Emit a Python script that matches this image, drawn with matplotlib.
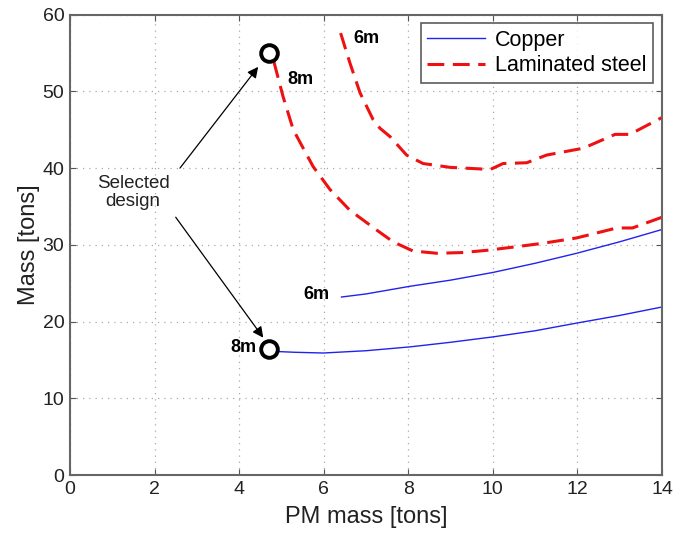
import matplotlib
matplotlib.use("Agg")
import matplotlib.pyplot as plt

plt.rcParams['font.family'] = ['Liberation Sans', 'DejaVu Sans']

# Copper designs (PM mass [tons] vs total mass [tons])
cu_8m_x = [4.71, 4.89, 5.3, 5.99, 7.0, 8.04, 9.0, 10.0, 11.0, 11.98, 13.0, 14.0]
cu_8m_y = [16.4, 16.1, 16.0, 15.9, 16.2, 16.7, 17.3, 18.0, 18.8, 19.8, 20.8, 21.9]
cu_6m_x = [6.42, 7.0, 8.04, 9.0, 10.0, 11.0, 11.98, 13.0, 14.0]
cu_6m_y = [23.2, 23.6, 24.6, 25.4, 26.4, 27.6, 28.9, 30.4, 32.0]

# Laminated steel designs
fe_8m_x = [4.82, 5.04, 5.28, 5.75, 6.15, 6.62, 7.26, 7.64, 8.11, 8.68,
           9.3, 9.88, 10.47, 11.18, 11.98, 12.93, 13.3, 14.0]
fe_8m_y = [53.9, 49.3, 45.0, 40.2, 37.2, 34.5, 31.9, 30.4, 29.2, 28.9,
           29.0, 29.3, 29.7, 30.2, 30.9, 32.2, 32.2, 33.6]
fe_6m_x = [6.40, 6.62, 6.86, 7.17, 7.33, 7.57, 7.96, 8.35, 8.99, 9.69,
           9.93, 10.24, 10.8, 11.27, 12.14, 12.89, 13.24, 14.0]
fe_6m_y = [57.6, 53.7, 49.8, 46.3, 45.2, 44.1, 41.7, 40.6, 40.1, 39.9,
           39.8, 40.6, 40.7, 41.7, 42.6, 44.4, 44.4, 46.6]

# Selected designs
sel_x = [4.71, 4.71]
sel_y = [55.0, 16.4]

x_ticks = [0, 2, 4, 6, 8, 10, 12, 14]
y_ticks = [0, 10, 20, 30, 40, 50, 60]

fig = plt.figure(figsize=(6.74, 5.37), dpi=100)
ax = fig.add_axes([70 / 674, 1 - 475 / 537, 592 / 674, 460.3 / 537])

blue = '#2222ee'
red = '#ee1111'

ax.plot(cu_8m_x, cu_8m_y, color=blue, lw=1.0, label='Copper')
ax.plot(cu_6m_x, cu_6m_y, color=blue, lw=1.0)
ax.plot(fe_8m_x, fe_8m_y, color=red, lw=2.2, dashes=(5.5, 2.8), label='Laminated steel')
ax.plot(fe_6m_x, fe_6m_y, color=red, lw=2.2, dashes=(5.5, 2.8))

ax.plot(sel_x, sel_y, 'o', ms=12, mfc='white', mec='black', mew=2.8, zorder=5)

ax.set_xlim(0, 14)
ax.set_ylim(0, 60)
ax.set_xticks(x_ticks)
ax.set_yticks(y_ticks)
ax.tick_params(direction='in', top=True, right=True, labelsize=14, length=4,
               color='#555555', pad=4, labelcolor='#222222')
for s in ax.spines.values():
    s.set_color('#666666')
    s.set_linewidth(1.5)
ax.grid(True, linestyle=(0, (1, 4)), color='#aaaaaa', lw=0.9)

ax.set_xlabel('PM mass [tons]', fontsize=17, labelpad=6, color='#222222')
ax.set_ylabel('Mass [tons]', fontsize=17, labelpad=2, color='#222222')

# Curve labels
lab = dict(fontsize=13, fontweight='bold', ha='center', va='center')
ax.text(5.44, 51.5, '8m', **lab)
ax.text(7.02, 56.9, '6m', **lab)
ax.text(5.82, 23.5, '6m', **lab)
ax.text(4.1, 16.6, '8m', **lab)

# Selected design annotation
ax.text(1.49, 36.8, 'Selected\ndesign', fontsize=13.5, ha='center', va='center',
        linespacing=1.1, color='#222222')
arrow = dict(arrowstyle='-|>', color='black', lw=0.9, mutation_scale=16,
             shrinkA=0, shrinkB=0)
ax.annotate('', xy=(4.45, 53.2), xytext=(2.6, 40.0), arrowprops=arrow)
ax.annotate('', xy=(4.57, 17.9), xytext=(2.5, 33.6), arrowprops=arrow)

leg = ax.legend(loc='upper right', fontsize=15.5, frameon=True, fancybox=False,
                edgecolor='#333333', borderpad=0.3, handlelength=2.7,
                handletextpad=0.45, labelspacing=0.2, borderaxespad=0.0,
                bbox_to_anchor=(0.985, 0.981))
leg.get_frame().set_linewidth(1.2)

fig.savefig('out.png', dpi=100)
